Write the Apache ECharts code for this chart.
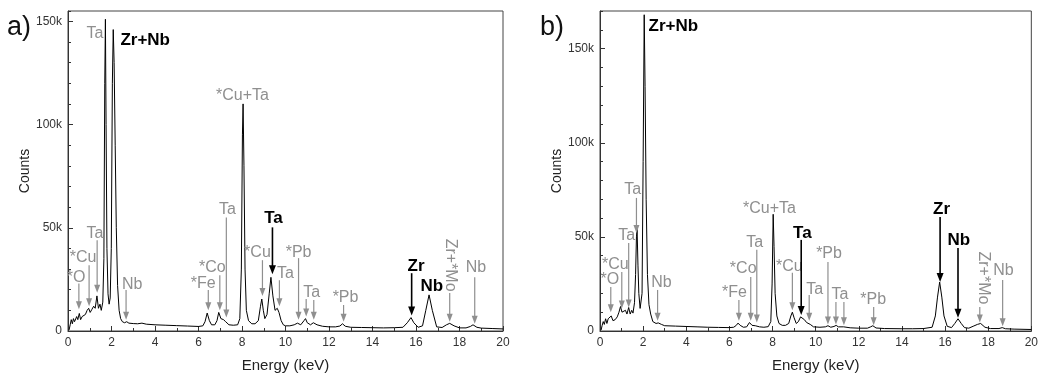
<!DOCTYPE html>
<html>
<head>
<meta charset="utf-8">
<script src="https://cdn.jsdelivr.net/npm/echarts@6/dist/echarts.min.js"></script>
<style>
  html, body {margin: 0; padding: 0; background: #fff;}
  #chart {width: 1041px; height: 381px;}
</style>
</head>
<body>
<div id="chart"></div>
<script>
// spectrum a) - energy in keV, counts in thousands
const energyA = [0.05, 0.1, 0.15, 0.2, 0.25, 0.3, 0.35, 0.4, 0.45, 0.52, 0.58, 0.65, 0.72, 0.8, 0.88, 0.95, 1.02, 1.1, 1.18, 1.25,
    1.33, 1.4, 1.47, 1.53, 1.6, 1.65, 1.69, 1.72, 1.75, 1.79, 1.84, 1.89, 1.94, 1.99, 2.04, 2.08, 2.12, 2.17, 2.22, 2.28,
    2.35, 2.42, 2.5, 2.6, 2.7, 2.8, 3.0, 3.2, 3.4, 3.6, 4.0, 4.5, 5.0, 5.5, 6.0, 6.2, 6.3, 6.4, 6.5, 6.6,
    6.75, 6.85, 6.93, 7.03, 7.15, 7.25, 7.4, 7.6, 7.8, 7.9, 7.97, 8.02, 8.05, 8.09, 8.14, 8.2, 8.3, 8.45, 8.6, 8.75,
    8.85, 8.91, 8.98, 9.05, 9.15, 9.25, 9.33, 9.42, 9.52, 9.62, 9.7, 9.8, 9.9, 10.0, 10.2, 10.4, 10.55, 10.7, 10.85, 10.92,
    11.0, 11.15, 11.28, 11.45, 11.7, 12.0, 12.3, 12.5, 12.62, 12.75, 13.0, 13.5, 14.0, 14.5, 15.0, 15.4, 15.6, 15.77, 15.9, 16.1,
    16.3, 16.45, 16.6, 16.75, 16.95, 17.2, 17.4, 17.55, 17.75, 18.0, 18.3, 18.5, 18.62, 18.8, 19.0, 19.5, 20.0];
const countsA = [0.5, 3, 5.5, 3.5, 6, 4.5, 5, 7, 5.5, 8.5, 5.5, 7, 6.5, 8, 10, 11, 9, 10.5, 12, 11,
    17, 11, 13, 10, 14, 35, 120, 151, 100, 40, 18, 13, 16, 40, 120, 146, 130, 90, 50, 22,
    10, 6, 4.5, 4, 4.5, 3.8, 3.6, 3.5, 3.8, 3.3, 3.0, 2.8, 2.6, 2.4, 2.2, 2.5, 4.5, 8.7, 5, 3,
    3, 5, 9, 6, 5.5, 4.5, 3, 2.8, 3, 6, 30, 95, 110, 80, 30, 10, 5, 3.5, 3.5, 5,
    12, 15.5, 10, 6, 8, 18, 26, 17, 10, 11, 9, 5, 3, 2.5, 2.5, 3, 3.8, 3, 5, 6,
    4, 3, 4, 3, 2.3, 2, 2, 2.4, 3.5, 2.3, 1.8, 1.7, 1.6, 1.5, 1.6, 1.8, 4, 6.5, 4, 1.8,
    2.5, 10, 17.5, 10, 2, 1.7, 3, 3.7, 2.5, 1.5, 1.5, 2.2, 3, 1.8, 1.4, 1.2, 1.0];

// spectrum b)
const energyB = [0.05, 0.1, 0.15, 0.2, 0.26, 0.32, 0.38, 0.45, 0.52, 0.6, 0.7, 0.8, 0.88, 0.95, 1.02, 1.1, 1.18, 1.25, 1.33, 1.4,
    1.47, 1.53, 1.6, 1.65, 1.69, 1.72, 1.76, 1.8, 1.86, 1.9, 1.95, 2.0, 2.05, 2.09, 2.14, 2.2, 2.27, 2.35, 2.45, 2.6,
    2.7, 2.85, 3.0, 3.5, 4.0, 4.5, 5.0, 5.5, 6.0, 6.2, 6.32, 6.4, 6.5, 6.65, 6.8, 6.93, 7.05, 7.2, 7.4, 7.6,
    7.8, 7.92, 7.98, 8.03, 8.07, 8.12, 8.2, 8.3, 8.45, 8.6, 8.75, 8.85, 8.92, 9.0, 9.1, 9.2, 9.3, 9.38, 9.48, 9.58,
    9.66, 9.75, 9.9, 10.2, 10.45, 10.57, 10.7, 10.85, 10.95, 11.05, 11.3, 11.6, 12.0, 12.4, 12.55, 12.65, 12.8, 13.2, 14.0, 14.5,
    15.0, 15.4, 15.55, 15.65, 15.75, 15.85, 15.95, 16.1, 16.3, 16.45, 16.6, 16.75, 16.9, 17.1, 17.3, 17.5, 17.65, 17.85, 18.1, 18.5,
    18.65, 18.8, 19.2, 20.0];
const countsB = [0.5, 3, 5, 3.5, 6.5, 4, 6.5, 5.5, 8, 5.5, 6, 7.5, 10, 13, 10, 9, 11, 9, 12.5, 9,
    11, 9.5, 15, 30, 50, 54, 35, 20, 12, 11, 20, 90, 168, 130, 70, 30, 14, 9, 5, 4,
    4.3, 3.5, 2.8, 2.6, 2.4, 2.2, 2.0, 1.9, 1.8, 2, 3, 4.2, 3, 2, 2.2, 4.5, 3, 2.8, 2.2, 2.0,
    2.3, 5, 25, 62, 45, 20, 8, 4, 3, 3, 4, 8, 10, 7, 4, 5, 7.5, 8, 6, 4.5,
    5, 3.5, 2.2, 2, 2.2, 2.8, 2, 2.4, 3, 2.2, 2.2, 1.7, 1.5, 1.5, 2.2, 2.8, 1.6, 1.3, 1.2, 1.2,
    1.3, 2, 8, 18, 26, 18, 8, 2.5, 1.8, 4, 6.5, 4, 1.8, 1.5, 2.5, 3.5, 4, 2, 1.3, 1.3,
    1.8, 1.2, 1.0, 0.8];

// peak labels: label position (keV, k counts), arrows [keV, from, to]
const peaksA = [
    {t: "*O", x: 0.37, y: 26, arrows: [[0.5, 23, 10.5]]},
    {t: "*Cu", x: 0.69, y: 35.7, arrows: [[0.97, 31.9, 12]]},
    {t: "Ta", x: 1.24, y: 47.3, arrows: [[1.34, 44, 18.5]]},
    {t: "Ta", x: 1.24, y: 144},
    {t: "Zr+Nb", x: 3.55, y: 140.6, bold: true},
    {t: "Nb", x: 2.95, y: 22.7, arrows: [[2.67, 19.8, 5.5]]},
    {t: "*Fe", x: 6.22, y: 23.2, arrows: [[6.45, 19.8, 10]]},
    {t: "*Co", x: 6.64, y: 30.9, arrows: [[6.98, 27, 10]]},
    {t: "Ta", x: 7.33, y: 58.9, arrows: [[7.28, 55, 6.5]]},
    {t: "*Cu+Ta", x: 8.02, y: 114},
    {t: "*Cu", x: 8.71, y: 38.2, arrows: [[8.94, 34.3, 17]]},
    {t: "Ta", x: 9.45, y: 54.6, bold: true, arrows: [[9.4, 50.2, 27.5]]},
    {t: "Ta", x: 10.0, y: 28, arrows: [[9.72, 24.6, 12]]},
    {t: "*Pb", x: 10.6, y: 38.2, arrows: [[10.6, 35.3, 5.5]]},
    {t: "Ta", x: 11.2, y: 18.8, arrows: [[10.95, 15.5, 7], [11.3, 15, 5.5]]},
    {t: "*Pb", x: 12.76, y: 16.4, arrows: [[12.67, 12.6, 4.5]]},
    {t: "Zr", x: 16.0, y: 31.4, bold: true, arrows: [[15.8, 28, 7.5]]},
    {t: "Nb", x: 16.73, y: 21.7, bold: true},
    {t: "Zr+*Mo", x: 17.56, y: 31.9, vertical: true, arrows: [[17.55, 18.4, 4.5]]},
    {t: "Nb", x: 18.76, y: 30.9, arrows: [[18.7, 26, 3.5]]}
];
const peaksB = [
    {t: "*O", x: 0.46, y: 27.1, arrows: [[0.5, 23.4, 10]]},
    {t: "*Cu", x: 0.71, y: 35.1, arrows: [[1.01, 31.4, 12]]},
    {t: "Ta", x: 1.24, y: 50.5, arrows: [[1.33, 46.8, 12.5]]},
    {t: "Ta", x: 1.52, y: 75, arrows: [[1.69, 70.7, 52]]},
    {t: "Zr+Nb", x: 3.4, y: 161.7, bold: true},
    {t: "Nb", x: 2.85, y: 25.5, arrows: [[2.67, 21.8, 5.5]]},
    {t: "*Fe", x: 6.23, y: 20.2, arrows: [[6.44, 16.5, 5.5]]},
    {t: "*Co", x: 6.64, y: 33, arrows: [[6.99, 28.7, 5.5]]},
    {t: "Ta", x: 7.17, y: 46.8, arrows: [[7.27, 43.1, 4.5]]},
    {t: "*Cu+Ta", x: 7.86, y: 64.9},
    {t: "*Cu", x: 8.78, y: 34, arrows: [[8.92, 30.9, 11]]},
    {t: "Ta", x: 9.38, y: 52.1, bold: true, arrows: [[9.33, 48.4, 8.5]]},
    {t: "Ta", x: 9.95, y: 21.8, arrows: [[9.7, 19.1, 5.5]]},
    {t: "*Pb", x: 10.62, y: 41, arrows: [[10.57, 36.7, 3.5]]},
    {t: "Ta", x: 11.13, y: 19.1, arrows: [[10.94, 15.4, 3.5], [11.31, 15.4, 3]]},
    {t: "*Pb", x: 12.67, y: 16.5, arrows: [[12.69, 12.8, 3]]},
    {t: "Zr", x: 15.84, y: 64.4, bold: true, arrows: [[15.77, 60.6, 26]]},
    {t: "Nb", x: 16.64, y: 48.4, bold: true, arrows: [[16.6, 44.1, 7]]},
    {t: "Zr+*Mo", x: 17.79, y: 28.2, vertical: true, arrows: [[17.61, 12.8, 4.5]]},
    {t: "Nb", x: 18.71, y: 31.9, arrows: [[18.67, 27.1, 2.5]]}
];

const xTicks = {min: 0, max: 20, interval: 2};
const yMaxA = 155;
const yMaxB = 170;

const FONT = "'Liberation Sans', Arial, sans-serif";
const GRAY = "#8f8f8f";

const chart = echarts.init(document.getElementById("chart"));

// draws one label with its arrows, in data coordinates
const peakRenderer = (peaks) => (params, api) => {
    const p = peaks[api.value(2)];
    const color = p.bold ? "#000" : GRAY;
    const pos = api.coord([p.x, p.y]);
    const children = [{
        type: "text",
        x: pos[0],
        y: pos[1],
        rotation: p.vertical ? -Math.PI / 2 : 0,
        style: {
            text: p.t,
            fill: color,
            align: "center",
            verticalAlign: "middle",
            font: (p.bold ? "bold 17px " : "16px ") + FONT
        }
    }];
    (p.arrows || []).forEach(a => {
        const s = api.coord([a[0], a[1]]);
        const e = api.coord([a[0], a[2]]);
        const head = p.bold ? 9 : 8;
        const half = p.bold ? 3.5 : 3;
        children.push({
            type: "line",
            shape: {x1: s[0], y1: s[1], x2: e[0], y2: e[1] - head + 1},
            style: {stroke: color, lineWidth: p.bold ? 1.6 : 1.2}
        });
        children.push({
            type: "polygon",
            shape: {points: [[e[0], e[1]], [e[0] - half, e[1] - head], [e[0] + half, e[1] - head]]},
            style: {fill: color}
        });
    });
    return {type: "group", children: children};
};

const xAxis = (gridIndex) => ({
    type: "value",
    gridIndex: gridIndex,
    min: xTicks.min,
    max: xTicks.max,
    interval: xTicks.interval,
    name: "Energy (keV)",
    nameLocation: "middle",
    nameGap: 27,
    nameTextStyle: {fontFamily: FONT, fontSize: 15, color: "#222"},
    axisLine: {show: true, lineStyle: {color: "#333", width: 1}},
    axisTick: {show: true, inside: true, length: 5, lineStyle: {color: "#333"}},
    minorTick: {show: true, splitNumber: 2, length: 3, lineStyle: {color: "#333"}},
    axisLabel: {fontFamily: FONT, fontSize: 12, color: "#333", margin: 6},
    splitLine: {show: false}
});

const yMajor = (gridIndex, max) => ({
    type: "value",
    gridIndex: gridIndex,
    position: "left",
    min: 0,
    max: max,
    interval: 50,
    name: "Counts",
    nameLocation: "middle",
    nameGap: 24,
    nameTextStyle: {fontFamily: FONT, fontSize: 14, color: "#222"},
    axisLine: {show: true, lineStyle: {color: "#333", width: 1}},
    axisTick: {show: true, inside: true, length: 5, lineStyle: {color: "#333"}},
    axisLabel: {
        fontFamily: FONT, fontSize: 12, color: "#333", margin: 6, showMaxLabel: false,
        formatter: v => (v === 0 ? "0" : v + "k")
    },
    splitLine: {show: false}
});

const yMinor = (gridIndex, max) => ({
    type: "value",
    gridIndex: gridIndex,
    position: "left",
    offset: 0,
    min: 0,
    max: max,
    interval: 10,
    axisLine: {show: false},
    axisTick: {show: true, inside: true, length: 3, lineStyle: {color: "#333"}},
    axisLabel: {show: false},
    splitLine: {show: false}
});

chart.setOption({
    animation: false,
    backgroundColor: "#fff",
    grid: [
        {left: 68, right: 538, top: 11, bottom: 50, show: true, borderColor: "#444", borderWidth: 1},
        {left: 600, right: 6, top: 11, bottom: 50, show: true, borderColor: "#444", borderWidth: 1}
    ],
    xAxis: [xAxis(0), xAxis(1)],
    yAxis: [yMajor(0, yMaxA), yMinor(0, yMaxA), yMajor(1, yMaxB), yMinor(1, yMaxB)],
    graphic: [
        {type: "text", left: 7, top: 14, style: {text: "a)", font: "27px " + FONT, fill: "#111"}},
        {type: "text", left: 540, top: 14, style: {text: "b)", font: "27px " + FONT, fill: "#111"}}
    ],
    series: [
        {
            type: "line",
            xAxisIndex: 0,
            yAxisIndex: 0,
            data: energyA.map((e, i) => [e, countsA[i]]),
            showSymbol: false,
            lineStyle: {color: "#000", width: 1},
            z: 3
        },
        {
            type: "line",
            xAxisIndex: 1,
            yAxisIndex: 2,
            data: energyB.map((e, i) => [e, countsB[i]]),
            showSymbol: false,
            lineStyle: {color: "#000", width: 1},
            z: 3
        },
        {
            type: "custom",
            xAxisIndex: 0,
            yAxisIndex: 0,
            silent: true,
            clip: false,
            renderItem: peakRenderer(peaksA),
            data: peaksA.map((p, i) => [p.x, p.y, i]),
            z: 4
        },
        {
            type: "custom",
            xAxisIndex: 1,
            yAxisIndex: 2,
            silent: true,
            clip: false,
            renderItem: peakRenderer(peaksB),
            data: peaksB.map((p, i) => [p.x, p.y, i]),
            z: 4
        }
    ]
});
</script>
</body>
</html>
